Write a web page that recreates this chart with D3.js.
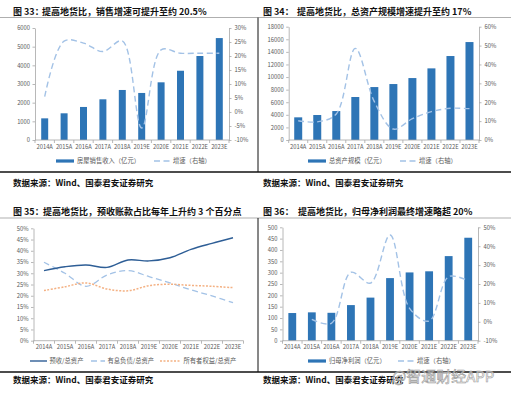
<!DOCTYPE html>
<html><head><meta charset="utf-8">
<script src="https://cdn.jsdelivr.net/npm/d3@7"></script>
<style>
body{margin:0;background:#fff;}
svg{display:block;font-family:"Noto Sans CJK SC","Noto Sans",sans-serif;}
</style></head><body>
<svg id="chart" width="511" height="396"></svg>
<script>
var years = ["2014A","2015A","2016A","2017A","2018A","2019E","2020E","2021E","2022E","2023E"];

// 图33 销售收入 + 增速
var sales = [1160,1430,1770,2180,2680,2520,3090,3710,4500,5460];
var salesGrowth = [5.5,25.3,24.6,21.6,25.4,-5.7,22.2,21,21,21];
var salesTicksL = [0,1000,2000,3000,4000,5000,6000];
var salesTicksR = [-10,-5,0,5,10,15,20,25,30];

// 图34 总资产 + 增速
var assets = [3600,3970,4600,6830,8410,8890,9840,11380,13340,15560];
var assetsGrowth = [10.2,9.6,13.8,48.5,20.3,5.8,11.3,15,16.8,16.6];
var assetsTicksL = [0,2000,4000,6000,8000,10000,12000,14000,16000,18000];
var assetsTicksR = [0,10,20,30,40,50,60];

// 图35 占比
var advRatio = [31.2,32.9,33.7,32.6,35.9,35.5,36.9,40.6,43.3,45.8];
var debtRatio = [34.9,30.0,24.2,29.2,31.2,28.5,25.7,22.6,19.9,16.9];
var equityRatio = [22.3,24.0,25.7,23.0,22.2,24.5,25.1,24.6,24.2,23.6];
var ratioTicks = [0,5,10,15,20,25,30,35,40,45,50];

// 图36 归母净利润 + 增速
var profit = [122,125,123,157,190,276,301,306,373,454];
var profitGrowth = [null,1.3,-0.8,26.2,20.5,45.9,7.1,0.4,23.9,21.7];
var profitTicksL = [0,50,100,150,200,250,300,350,400,450,500];
var profitTicksR = [-10,0,10,20,30,40,50];

var svg = d3.select("#chart");
var barColor = "#2e75b6";
var lineColor = "#a3c2e6";
var axisColor = "#a6a6a6";
var textColor = "#595959";

function pct(d){ return d + "%"; }

function bandAxis(g, x, y0){
	g.append("line").attr("x1", x.range()[0]).attr("x2", x.range()[1])
		.attr("y1", y0).attr("y2", y0).attr("stroke", axisColor).attr("stroke-width", 0.8);
	var edges = years.map(function(d){ return x(d); }).concat([x.range()[1]]);
	g.selectAll(".xt").data(edges).enter().append("line")
		.attr("x1", function(d){ return d; }).attr("x2", function(d){ return d; })
		.attr("y1", y0).attr("y2", y0 + 3).attr("stroke", axisColor).attr("stroke-width", 0.8);
	g.selectAll(".xl").data(years).enter().append("text")
		.attr("x", function(d){ return x(d) + x.bandwidth()/2; })
		.attr("y", y0 + 8.5)
		.attr("text-anchor", "middle").attr("font-size", 5.8).attr("fill", textColor)
		.text(function(d){ return d; });
}

function styleAxis(sel){
	sel.select(".domain").attr("stroke", axisColor).attr("stroke-width", 0.8);
	sel.selectAll(".tick line").attr("stroke", axisColor).attr("stroke-width", 0.8);
	sel.selectAll(".tick text").attr("fill", textColor).attr("font-size", 5.8)
		.attr("font-family", '"Noto Sans CJK SC","Noto Sans",sans-serif');
}

function comboPanel(cfg){
	var g = svg.append("g");
	var x = d3.scaleBand().domain(years).range([cfg.x0, cfg.x1]);
	var yL = d3.scaleLinear().domain([cfg.ticksL[0], cfg.ticksL[cfg.ticksL.length-1]]).range([cfg.yB, cfg.yT]);
	var yR = d3.scaleLinear().domain([cfg.ticksR[0], cfg.ticksR[cfg.ticksR.length-1]]).range([cfg.yB, cfg.yT]);

	var bw = x.bandwidth() * cfg.barRatio;
	g.selectAll(".bar").data(cfg.bars).enter().append("rect")
		.attr("x", function(d, i){ return x(years[i]) + (x.bandwidth() - bw)/2; })
		.attr("y", function(d){ return yL(d); })
		.attr("width", bw)
		.attr("height", function(d){ return yL(0) - yL(d); })
		.attr("fill", barColor);

	var line = d3.line()
		.defined(function(d){ return d != null; })
		.x(function(d, i){ return x(years[i]) + x.bandwidth()/2; })
		.y(function(d){ return yR(d); })
		.curve(d3.curveCatmullRom.alpha(0.5));
	g.append("path").attr("d", line(cfg.growth))
		.attr("fill", "none").attr("stroke", lineColor).attr("stroke-width", 1.4)
		.attr("stroke-dasharray", "6,3.5");

	var ax = g.append("g").attr("transform", "translate(" + cfg.x0 + ",0)")
		.call(d3.axisLeft(yL).tickValues(cfg.ticksL).tickSize(2.5).tickSizeOuter(0).tickPadding(2.5).tickFormat(d3.format("d")));
	styleAxis(ax);
	var axR = g.append("g").attr("transform", "translate(" + cfg.x1 + ",0)")
		.call(d3.axisRight(yR).tickValues(cfg.ticksR).tickSize(2.5).tickSizeOuter(0).tickPadding(3).tickFormat(pct));
	styleAxis(axR);
	bandAxis(g, x, yL(0));

	// legend
	g.append("rect").attr("x", cfg.lgx).attr("y", cfg.lgy - 1.6).attr("width", 18).attr("height", 3.2).attr("fill", barColor);
	g.append("text").attr("x", cfg.lgx + 21).attr("y", cfg.lgy + 2.2).attr("font-size", 6.3).attr("fill", textColor).text(cfg.barName);
	g.append("line").attr("x1", cfg.lgx2).attr("x2", cfg.lgx2 + 16).attr("y1", cfg.lgy).attr("y2", cfg.lgy)
		.attr("stroke", lineColor).attr("stroke-width", 1.3).attr("stroke-dasharray", "6,3.5");
	g.append("text").attr("x", cfg.lgx2 + 19).attr("y", cfg.lgy + 2.2).attr("font-size", 6.3).attr("fill", textColor).text("增速（右轴）");
}

function ratioPanel(){
	var g = svg.append("g");
	var x = d3.scaleBand().domain(years).range([33.5, 243.5]);
	var y = d3.scaleLinear().domain([0, 50]).range([340.7, 228.3]);
	var ax = g.append("g").attr("transform", "translate(33.5,0)")
		.call(d3.axisLeft(y).tickValues(ratioTicks).tickSize(2.5).tickSizeOuter(0).tickPadding(2.5).tickFormat(pct));
	styleAxis(ax);
	bandAxis(g, x, y(0));

	var series = [
		{v: debtRatio, c: "#a3c2e6", dash: "6,3.5", w: 1.3},
		{v: equityRatio, c: "#f4b183", dash: "2,1.5", w: 1.5},
		{v: advRatio, c: "#2e5e96", dash: null, w: 1.4}
	];
	var line = d3.line()
		.x(function(d, i){ return x(years[i]) + x.bandwidth()/2; })
		.y(function(d){ return y(d); })
		.curve(d3.curveCatmullRom.alpha(0.5));
	series.forEach(function(s){
		g.append("path").attr("d", line(s.v)).attr("fill", "none")
			.attr("stroke", s.c).attr("stroke-width", s.w)
			.attr("stroke-dasharray", s.dash);
	});

	var ly = 361;
	var items = [
		{x: 30, c: "#2e5e96", dash: null, t: "预收/总资产", w: 17},
		{x: 91, c: "#a3c2e6", dash: "6,3.5", t: "有息负债/总资产", w: 14},
		{x: 160, c: "#f4b183", dash: "2,1.5", t: "所有者权益/总资产", w: 21}
	];
	items.forEach(function(it){
		g.append("line").attr("x1", it.x).attr("x2", it.x + it.w).attr("y1", ly).attr("y2", ly)
			.attr("stroke", it.c).attr("stroke-width", 1.4).attr("stroke-dasharray", it.dash);
		g.append("text").attr("x", it.x + it.w + 2.5).attr("y", ly + 2.2).attr("font-size", 6.3)
			.attr("fill", textColor).text(it.t);
	});
}

// frame: titles, rules, sources
function title(x, y, pre, rest, xr){
	svg.append("text").attr("x", x).attr("y", y).attr("font-size", 9).attr("font-weight", "bold").attr("fill", "#111").text(pre);
	svg.append("text").attr("x", xr).attr("y", y).attr("font-size", 9).attr("font-weight", "bold").attr("fill", "#111").text(rest);
}
title(13, 14.5, "图 33：", "提高地货比，销售增速可提升至约 20.5%", 42);
title(263, 14.5, "图 34：", "提高地货比，总资产规模增速提升至约 17%", 297);
title(13, 214.5, "图 35：", "提高地货比，预收账款占比每年上升约 3 个百分点", 43);
title(263, 214.5, "图 36：", "提高地货比，归母净利润最终增速略超 20%", 298);

[17.5, 218].forEach(function(y){
	svg.append("line").attr("x1", 0).attr("x2", 511).attr("y1", y).attr("y2", y).attr("stroke", "#8c8c8c").attr("stroke-width", 0.7);
});
[172, 372].forEach(function(y){
	svg.append("line").attr("x1", 0).attr("x2", 511).attr("y1", y).attr("y2", y).attr("stroke", "#111").attr("stroke-width", 1.3);
});
[[17.5, 172], [218, 372]].forEach(function(p){
	svg.append("line").attr("x1", 258).attr("x2", 258).attr("y1", p[0]).attr("y2", p[1]).attr("stroke", "#111").attr("stroke-width", 1);
});
[[13, 185.5], [263, 185.5], [13, 382.5], [263, 382.5]].forEach(function(p){
	svg.append("text").attr("x", p[0]).attr("y", p[1]).attr("font-size", 8.5).attr("font-weight", "bold")
		.attr("fill", "#111").text("数据来源：Wind、国泰君安证券研究");
});

comboPanel({x0: 35, x1: 229, yT: 28, yB: 140, bars: sales, growth: salesGrowth,
	ticksL: salesTicksL, ticksR: salesTicksR, barRatio: 0.36,
	lgx: 56, lgx2: 154, lgy: 161, barName: "房屋销售收入（亿元）"});
comboPanel({x0: 288.7, x1: 479, yT: 26.7, yB: 140, bars: assets, growth: assetsGrowth,
	ticksL: assetsTicksL, ticksR: assetsTicksR, barRatio: 0.42,
	lgx: 308, lgx2: 400, lgy: 161, barName: "总资产规模（亿元）"});
ratioPanel();
comboPanel({x0: 282.5, x1: 478, yT: 227.3, yB: 340.7, bars: profit, growth: profitGrowth,
	ticksL: profitTicksL, ticksR: profitTicksR, barRatio: 0.4,
	lgx: 308, lgx2: 398, lgy: 361, barName: "归母净利润（亿元）"});

// watermark
svg.append("text").attr("x", 392).attr("y", 382).attr("font-size", 15)
	.attr("fill", "#fff").attr("fill-opacity", 0.6).attr("stroke", "#9a9a9a").attr("stroke-width", 0.6)
	.text("@智通财经APP");
</script>
</body></html>
